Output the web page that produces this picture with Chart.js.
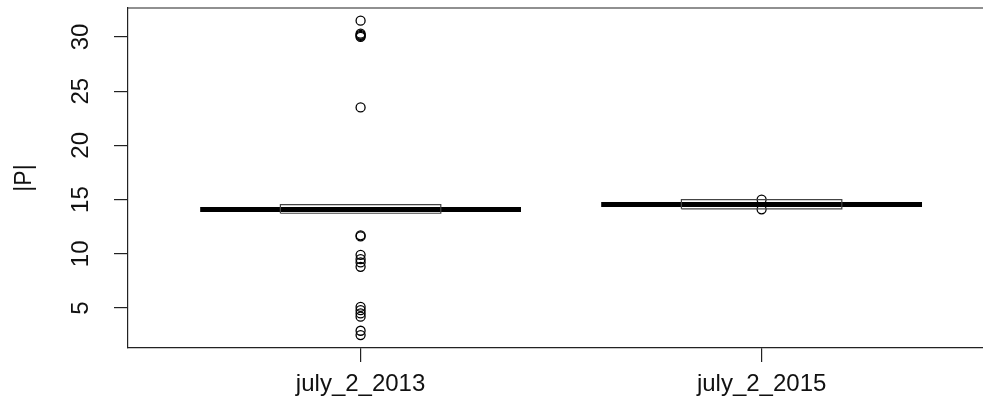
<!DOCTYPE html>
<html>
<head>
<meta charset="utf-8">
<script src="https://cdn.jsdelivr.net/npm/chart.js@4.4.1/dist/chart.umd.min.js"></script>
<style>
  html, body { margin: 0; padding: 0; background: #fff; overflow: hidden; }
  #wrap { width: 1000px; height: 411px; }
</style>
</head>
<body>
<div id="wrap"><canvas id="myChart"></canvas></div>
<script>
// Datos (boxplot de R)
const categories = ["july_2_2013", "july_2_2015"];
const q1 = [13.74, 14.15];
const medians = [14.08, 14.54];
const q3 = [14.54, 15.0];
const outliers2013 = [31.5, 30.3, 30.2, 30.1, 30.0, 23.5, 11.7, 11.6, 9.9, 9.5, 9.2, 8.8, 5.1, 4.8, 4.5, 4.2, 2.9, 2.5];
const outliers2015 = [15.0, 14.1];
const yTicks = [5, 10, 15, 20, 25, 30];

const boxHalf = 0.2;
const medianHalf = 0.4;

// Construye los datasets a partir de los arrays
function buildDatasets() {
  const sets = [];
  categories.forEach((cat, i) => {
    const x = i + 1;
    sets.push({
      label: "box " + cat,
      data: [
        { x: x - boxHalf, y: q1[i] }, { x: x + boxHalf, y: q1[i] },
        { x: x + boxHalf, y: q3[i] }, { x: x - boxHalf, y: q3[i] },
        { x: x - boxHalf, y: q1[i] },
      ],
      showLine: true,
      borderColor: "#444",
      borderWidth: 1.2,
      pointRadius: 0,
      fill: false,
    });
    sets.push({
      label: "median " + cat,
      data: [{ x: x - medianHalf, y: medians[i] }, { x: x + medianHalf, y: medians[i] }],
      showLine: true,
      borderColor: "#000",
      borderWidth: 5,
      borderCapStyle: "butt",
      pointRadius: 0,
    });
  });
  const outs = [outliers2013, outliers2015];
  outs.forEach((vals, i) => {
    sets.push({
      label: "outliers " + categories[i],
      data: vals.map((v) => ({ x: i + 1, y: v })),
      showLine: false,
      pointStyle: "circle",
      pointRadius: 4.5,
      pointBorderWidth: 1.3,
      borderColor: "#000",
      backgroundColor: "rgba(0,0,0,0)",
    });
  });
  return sets;
}

// Marco del gráfico (bty = "o"): línea superior y derecha
const framePlugin = {
  id: "frame",
  afterDraw(chart) {
    const { ctx, chartArea: a } = chart;
    ctx.save();
    ctx.strokeStyle = "#222";
    ctx.lineWidth = 1.2;
    ctx.beginPath();
    ctx.moveTo(a.left, a.top);
    ctx.lineTo(a.right, a.top);
    ctx.lineTo(a.right, a.bottom);
    ctx.stroke();
    ctx.restore();
  },
};

Chart.defaults.font.family = "'Liberation Sans', Arial, sans-serif";
Chart.defaults.color = "#111";

const ctx = document.getElementById("myChart").getContext("2d");
new Chart(ctx, {
  type: "scatter",
  data: { datasets: buildDatasets() },
  options: {
    responsive: true,
    maintainAspectRatio: false,
    animation: false,
    layout: { padding: { top: 8, right: 4, left: 0, bottom: 0 } },
    plugins: { legend: { display: false }, tooltip: { enabled: false } },
    scales: {
      x: {
        type: "linear",
        min: 0.42,
        max: 2.58,
        afterBuildTicks: (scale) => { scale.ticks = categories.map((c, i) => ({ value: i + 1 })); },
        afterFit: (scale) => { scale.height = 63; scale.paddingLeft = 0; scale.paddingRight = 0; },
        ticks: {
          callback: (v) => categories[v - 1],
          font: { size: 24 },
          padding: 8,
          maxRotation: 0,
          minRotation: 0,
        },
        grid: { drawOnChartArea: false, drawTicks: true, tickLength: 14, color: "#222", lineWidth: 1.2 },
        border: { display: true, color: "#222", width: 1.2 },
      },
      y: {
        min: 1.31,
        max: 32.67,
        afterBuildTicks: (scale) => { scale.ticks = yTicks.map((v) => ({ value: v })); },
        afterFit: (scale) => { scale.width = 128; scale.paddingTop = 0; scale.paddingBottom = 0; },
        ticks: {
          font: { size: 24 },
          minRotation: 90,
          maxRotation: 90,
          crossAlign: "center",
          padding: 19,
        },
        title: {
          display: true,
          text: "|P|",
          font: { size: 23 },
          padding: { top: 11, bottom: 0 },
        },
        grid: { drawOnChartArea: false, drawTicks: true, tickLength: 14, color: "#222", lineWidth: 1.2 },
        border: { display: true, color: "#222", width: 1.2 },
      },
    },
  },
  plugins: [framePlugin],
});
</script>
</body>
</html>
